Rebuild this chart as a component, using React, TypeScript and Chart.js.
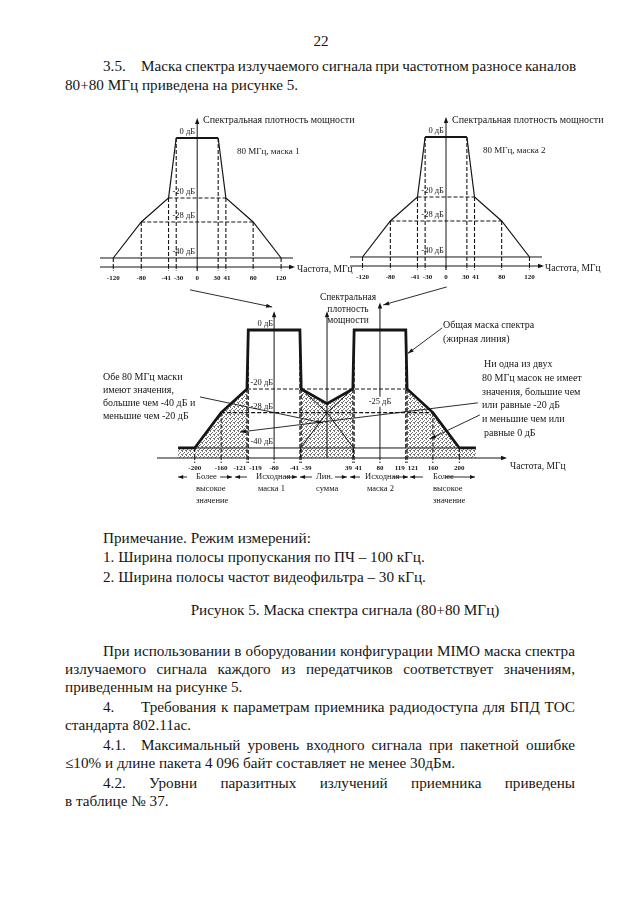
import React, { useEffect, useRef } from "react";
import { Chart, registerables } from "chart.js";

Chart.register(...registerables);

const INK = "#151515";
const SERIF = '"Liberation Serif", "Times New Roman", Times, serif';
const BODY = 15.2;

// ---------------- data ----------------
// single 80 MHz mask (mask 1 and mask 2 have the same shape): offset in MHz, level in dB
const singleMaskFreqs = [-120, -80, -41, -30, 30, 41, 80, 120];
const singleMaskLevels = [-40, -28, -20, 0, 0, -20, -28, -40];
const singleTicks = [-120, -80, -41, -30, 0, 30, 41, 80, 120];
const singleLevelMarks = [0, -20, -28, -40];

// 80+80 MHz
const mask1Freqs = [-200, -160, -121, -119, -41, -39, 0, 40];
const mask1Levels = [-40, -28, -20, 0, 0, -20, -28, -40];
const mask2Freqs = [-40, 0, 39, 41, 119, 121, 160, 200];
const mask2Levels = [-40, -28, -20, 0, 0, -20, -28, -40];
const overallFreqs = [-225, -200, -160, -121, -119, -41, -39, 0, 39, 41, 119, 121, 160, 200, 225];
const overallLevels = [-40, -40, -28, -20, 0, 0, -20, -25, -20, 0, 0, -20, -28, -40, -40];
const comboTicks = [-200, -160, -121, -119, -80, -41, -39, 39, 41, 80, 119, 121, 160, 200];
const comboLevelMarks = [0, -20, -28, -40];
const sumLevel = -25;
const maskCentres = [-80, 80];
const axisPositions = [-80, 0, 80];
const axisTipLevels = [6, 6, 9];

// ---------------- layout ----------------
const SINGLE_Y = { min: -43, max: 6.33 };
const COMBO_X = { min: -257, max: 269 };
const COMBO_Y = { min: -43.4, max: 9.15 };

// annotation leaders (data coords) [x1, y1, x2, y2]
const comboLeaders = [
  [-207, 13.6, -83, 7.8],
  [181, 14.6, 85, 8.5],
  [174, 0.7, 122, -8],
  [-192, -22.7, -6, -31.5],
  [228, -24.7, -131.5, -34.6],
  [231, -28.8, 155.7, -36.9],
];
// arrows under the axis [from, to] (x in MHz)
const regionArrows = [
  [-211.6, -225], [-161.7, -143.6], [-121, -139], [-63.5, -45.3], [-22.7, -40.8],
  [12, 30], [49.9, 34.8], [99.8, 122.4], [145, 125.5], [178, 223.7],
];

type P = { x: number; y: number | null };

function polyline(fs: number[], ls: number[]): P[] {
  return fs.map((f, i) => ({ x: f, y: ls[i] }));
}

function guides(fsList: number[][], lsList: number[][], yBottom: number, skip: number[]) {
  const all = lsList.flat();
  const floor = Math.min(...all);
  const levels: number[] = [];
  all.forEach((l) => { if (l > floor && l < 0 && !levels.includes(l)) levels.push(l); });
  const h: P[] = [];
  levels.forEach((L) => {
    const fs: number[] = [];
    fsList.forEach((arr, k) => arr.forEach((f, i) => { if (lsList[k][i] === L) fs.push(f); }));
    const a = Math.min(...fs), b = Math.max(...fs);
    h.push({ x: a, y: L }, { x: b, y: L }, { x: b, y: null });
  });
  const top = new Map<number, number>();
  fsList.forEach((arr, k) => arr.forEach((f, i) => {
    if (skip.includes(f)) return;
    const L = lsList[k][i];
    if (!top.has(f) || (top.get(f) as number) < L) top.set(f, L);
  }));
  const v: P[] = [];
  [...top.keys()].sort((a, b) => a - b).forEach((f) => {
    v.push({ x: f, y: top.get(f) as number }, { x: f, y: yBottom }, { x: f, y: null });
  });
  return { h, v, floor };
}

function lowSegments(fs: number[], ls: number[]): P[][] {
  const out: P[][] = [];
  let cur: P[] = [];
  fs.forEach((f, i) => {
    if (ls[i] < 0) cur.push({ x: f, y: ls[i] });
    else { if (cur.length > 1) out.push(cur); cur = []; }
  });
  if (cur.length > 1) out.push(cur);
  return out;
}

function seg(ctx: CanvasRenderingContext2D, x1: number, y1: number, x2: number, y2: number) {
  ctx.beginPath(); ctx.moveTo(x1, y1); ctx.lineTo(x2, y2); ctx.stroke();
}
function head(ctx: CanvasRenderingContext2D, x1: number, y1: number, x2: number, y2: number, len = 6, half = 2.2) {
  const a = Math.atan2(y2 - y1, x2 - x1);
  ctx.beginPath();
  ctx.moveTo(x2, y2);
  ctx.lineTo(x2 - len * Math.cos(a) + half * Math.sin(a), y2 - len * Math.sin(a) - half * Math.cos(a));
  ctx.lineTo(x2 - len * Math.cos(a) - half * Math.sin(a), y2 - len * Math.sin(a) + half * Math.cos(a));
  ctx.closePath(); ctx.fill();
}
function tickLabels(ctx: CanvasRenderingContext2D, ticks: number[], X: (v: number) => number, y: number, font: string) {
  ctx.font = font; ctx.textAlign = "center"; ctx.textBaseline = "middle";
  const items = ticks.map((t) => ({ t, p: X(t), w: ctx.measureText(String(t)).width }));
  items.sort((a, b) => a.p - b.p);
  for (let it = 0; it < 80; it++) {
    for (let i = 0; i < items.length - 1; i++) {
      const A = items[i], B = items[i + 1];
      const need = (A.w + B.w) / 2 + 3, d = B.p - A.p;
      if (d < need) { const s = (need - d) / 2; A.p -= s; B.p += s; }
    }
  }
  items.forEach((i) => ctx.fillText(String(i.t), i.p, y));
}

function baseDataset(d: any) {
  return { borderColor: INK, backgroundColor: INK, pointRadius: 0, pointHoverRadius: 0, fill: false, tension: 0, clip: false, spanGaps: false, ...d };
}

function baseOptions(pad: any, xr: any, yr: any) {
  return {
    responsive: false,
    animation: false,
    devicePixelRatio: 1,
    events: [],
    layout: { padding: pad },
    plugins: { legend: { display: false }, tooltip: { enabled: false }, title: { display: false } },
    scales: {
      x: { type: "linear", min: xr.min, max: xr.max, display: false },
      y: { type: "linear", min: yr.min, max: yr.max, display: false },
    },
  };
}

function singleConfig(pad: any, xr: any) {
  const g = guides([singleMaskFreqs], [singleMaskLevels], SINGLE_Y.min, []);
  const plugin = {
    id: "singleDecor",
    afterDraw(chart: any) {
      const { ctx, chartArea: a } = chart;
      const xs = chart.scales.x, ys = chart.scales.y;
      const X = (v: number) => xs.getPixelForValue(v), Y = (v: number) => ys.getPixelForValue(v);
      ctx.save();
      ctx.strokeStyle = INK; ctx.fillStyle = INK; ctx.lineWidth = 1;
      const base = Y(SINGLE_Y.min);
      seg(ctx, a.left, base, a.right, base);
      head(ctx, a.left, base, a.right + 2, base);
      const x0 = X(0);
      seg(ctx, x0, base + 4, x0, a.top + 2);
      head(ctx, x0, base, x0, a.top - 1);
      ctx.setLineDash([2, 1.5]);
      singleTicks.forEach((t) => seg(ctx, X(t), base, X(t), base + 4));
      ctx.setLineDash([]);
      tickLabels(ctx, singleTicks, X, base + 11, "bold 7px " + SERIF);
      ctx.font = "8.5px " + SERIF; ctx.textAlign = "right"; ctx.textBaseline = "middle";
      singleLevelMarks.forEach((L) => ctx.fillText(`${L} дБ`, x0 - 2, Y(L) - 6));
      ctx.restore();
    },
  };
  return {
    type: "line",
    data: {
      datasets: [
        baseDataset({
          data: polyline(singleMaskFreqs, singleMaskLevels), borderWidth: 1.2, order: 1,
          segment: { borderWidth: (c: any) => (c.p0.parsed.y === 0 && c.p1.parsed.y === 0 ? 2 : undefined) },
        }),
        baseDataset({ data: [{ x: xr.min, y: g.floor }, { x: xr.max, y: g.floor }], borderWidth: 1, order: 3 }),
        baseDataset({ data: g.h, borderWidth: 1.1, borderDash: [4, 2], order: 4 }),
        baseDataset({ data: g.v, borderWidth: 1.1, borderDash: [4, 2], order: 4 }),
      ],
    },
    options: baseOptions(pad, xr, SINGLE_Y),
    plugins: [plugin],
  };
}

function makeStipple(): any {
  const c = document.createElement("canvas");
  c.width = 4; c.height = 4;
  const g = c.getContext("2d");
  if (!g) return "rgba(0,0,0,0.15)";
  g.fillStyle = "rgba(0,0,0,0.55)";
  [[0, 0], [2, 1], [1, 2], [3, 3], [0, 3]].forEach(([a, b]) => g.fillRect(a, b, 1, 1));
  return g.createPattern(c, "repeat") || "rgba(0,0,0,0.15)";
}

function comboConfig(pad: any) {
  const g = guides([mask1Freqs, mask2Freqs], [mask1Levels, mask2Levels], COMBO_Y.min, axisPositions);
  const pattern = makeStipple();
  const fills = lowSegments(overallFreqs, overallLevels).map((s) =>
    baseDataset({ data: s, fill: "start", backgroundColor: pattern, borderWidth: 0, borderColor: "rgba(0,0,0,0)", order: 10 })
  );
  const fMin = Math.min(...overallFreqs), fMax = Math.max(...overallFreqs);
  const plugin = {
    id: "comboDecor",
    afterDraw(chart: any) {
      const { ctx, chartArea: a } = chart;
      const xs = chart.scales.x, ys = chart.scales.y;
      const X = (v: number) => xs.getPixelForValue(v), Y = (v: number) => ys.getPixelForValue(v);
      ctx.save();
      ctx.strokeStyle = INK; ctx.fillStyle = INK; ctx.lineWidth = 1;
      const base = Y(COMBO_Y.min);
      seg(ctx, a.left, base, a.right, base);
      head(ctx, a.left, base, a.right + 2, base);
      axisPositions.forEach((p, i) => {
        seg(ctx, X(p), base, X(p), Y(axisTipLevels[i]) + 2);
        head(ctx, X(p), base, X(p), Y(axisTipLevels[i]) - 1);
      });
      ctx.setLineDash([2, 1.5]);
      comboTicks.forEach((t) => seg(ctx, X(t), base, X(t), base + 5));
      ctx.setLineDash([]);
      tickLabels(ctx, comboTicks, X, base + 10, "bold 7px " + SERIF);
      // level marks
      ctx.font = "8.5px " + SERIF; ctx.textAlign = "right"; ctx.textBaseline = "middle";
      comboLevelMarks.forEach((L) => ctx.fillText(`${L} дБ`, X(maskCentres[0]) - 1, Y(L) - 6));
      const t = `${sumLevel} дБ`;
      ctx.textAlign = "center";
      const w = ctx.measureText(t).width;
      ctx.fillStyle = "#fff";
      ctx.fillRect(X(maskCentres[1]) - w / 2 - 1, Y(sumLevel) - 7, w + 2, 10);
      ctx.fillStyle = INK;
      ctx.fillText(t, X(maskCentres[1]), Y(sumLevel) - 2);
      // leaders
      ctx.lineWidth = 0.9;
      comboLeaders.forEach(([x1, y1, x2, y2]) => {
        seg(ctx, X(x1), Y(y1), X(x2), Y(y2));
        head(ctx, X(x1), Y(y1), X(x2), Y(y2), 6, 2);
      });
      // region arrows
      const ay = base + 19;
      regionArrows.forEach(([f1, f2]) => {
        seg(ctx, X(f1), ay, X(f2), ay);
        head(ctx, X(f1), ay, X(f2), ay, 5, 2);
      });
      ctx.restore();
    },
  };
  return {
    type: "line",
    data: {
      datasets: [
        baseDataset({ data: polyline(overallFreqs, overallLevels), borderWidth: 2.8, order: 1 }),
        baseDataset({ data: polyline(mask1Freqs, mask1Levels), borderWidth: 1, order: 5 }),
        baseDataset({ data: polyline(mask2Freqs, mask2Levels), borderWidth: 1, order: 5 }),
        baseDataset({ data: [{ x: fMin, y: g.floor }, { x: fMax, y: g.floor }], borderWidth: 1, order: 6 }),
        baseDataset({ data: g.h, borderWidth: 1.1, borderDash: [4, 2], order: 7 }),
        baseDataset({ data: g.v, borderWidth: 1.1, borderDash: [4, 2], order: 7 }),
        ...fills,
      ],
    },
    options: baseOptions(pad, COMBO_X, COMBO_Y),
    plugins: [plugin],
  };
}

function ChartCanvas({ left, top, width, height, build }: any) {
  const ref = useRef<HTMLCanvasElement | null>(null);
  useEffect(() => {
    if (!ref.current) return;
    const chart = new Chart(ref.current, build());
    return () => chart.destroy();
  }, []);
  return (
    <div style={{ position: "absolute", left, top, width, height }}>
      <canvas ref={ref} width={width} height={height} style={{ display: "block", width, height }} />
    </div>
  );
}

function Txt({ x, y, size = BODY, align = "left", w, children }: any) {
  const lh = Math.round(size * 1.2);
  const style: any = {
    position: "absolute", top: y - lh / 2, fontSize: size, lineHeight: `${lh}px`,
    whiteSpace: "nowrap", color: INK, fontFamily: SERIF,
  };
  if (align === "center") { style.left = x - 300; style.width = 600; style.textAlign = "center"; }
  else style.left = x;
  if (align === "justify") {
    const words = String(children).split(" ");
    style.width = w; style.display = "flex"; style.justifyContent = "space-between"; style.columnGap = 3;
    return <div style={style}>{words.map((wd, i) => <span key={i}>{wd}</span>)}</div>;
  }
  return <div style={style}>{children}</div>;
}

const R = 575;

export default function App() {
  return (
    <div style={{ position: "absolute", left: 0, top: 0, width: 640, height: 905, background: "#fff", overflow: "hidden", fontFamily: SERIF, color: INK }}>
      <Txt x={321} y={41} align="center">22</Txt>
      <Txt x={103} y={66}>3.5.</Txt>
      <Txt x={141} y={66} align="justify" w={R - 141}>Маска спектра излучаемого сигнала при частотном разносе каналов</Txt>
      <Txt x={65} y={85}>80+80 МГц приведена на рисунке 5.</Txt>

      <ChartCanvas left={60} top={100} width={300} height={195}
        build={() => singleConfig({ left: 40, right: 67, top: 19, bottom: 28 }, { min: -139, max: 137 })} />
      <ChartCanvas left={340} top={99} width={280} height={195}
        build={() => singleConfig({ left: 10, right: 78, top: 19, bottom: 28 }, { min: -138, max: 138 })} />
      <ChartCanvas left={90} top={283} width={520} height={235}
        build={() => comboConfig({ left: 67, right: 105, top: 20, bottom: 60 })} />

      <Txt x={203} y={120} size={10}>Спектральная плотность мощности</Txt>
      <Txt x={237} y={151} size={9}>80 МГц, маска 1</Txt>
      <Txt x={297} y={269} size={9.5}>Частота, МГц</Txt>
      <Txt x={452} y={120} size={10}>Спектральная плотность мощности</Txt>
      <Txt x={483} y={150} size={9}>80 МГц, маска 2</Txt>
      <Txt x={545} y={268} size={9.5}>Частота, МГц</Txt>

      <Txt x={348} y={297} size={9.5} align="center">Спектральная</Txt>
      <Txt x={348} y={309} size={9.5} align="center">плотность</Txt>
      <Txt x={348} y={320} size={9.5} align="center">мощности</Txt>
      <Txt x={443} y={325} size={10}>Общая маска спектра</Txt>
      <Txt x={443} y={339} size={10}>(жирная линия)</Txt>
      <Txt x={103} y={377} size={10}>Обе 80 МГц маски</Txt>
      <Txt x={103} y={390} size={10}>имеют значения,</Txt>
      <Txt x={103} y={403} size={10}>большие чем -40 дБ и</Txt>
      <Txt x={103} y={416} size={10}>меньшие чем -20 дБ</Txt>
      <Txt x={484} y={364} size={10}>Ни одна из двух</Txt>
      <Txt x={482} y={378} size={10}>80 МГц масок не имеет</Txt>
      <Txt x={482} y={392} size={10}>значения, большие чем</Txt>
      <Txt x={482} y={405} size={10}>или равные -20 дБ</Txt>
      <Txt x={482} y={419} size={10}>и меньшие чем или</Txt>
      <Txt x={484} y={433} size={10}>равные 0 дБ</Txt>
      <Txt x={510} y={466} size={9.5}>Частота, МГц</Txt>

      <Txt x={196} y={476} size={8.5}>Более</Txt>
      <Txt x={196} y={488} size={8.5}>высокое</Txt>
      <Txt x={196} y={500} size={8.5}>значение</Txt>
      <Txt x={256} y={476} size={8.5}>Исходная</Txt>
      <Txt x={258} y={488} size={8.5}>маска 1</Txt>
      <Txt x={316} y={476} size={8.5}>Лин.</Txt>
      <Txt x={316} y={488} size={8.5}>сумма</Txt>
      <Txt x={365} y={476} size={8.5}>Исходная</Txt>
      <Txt x={367} y={488} size={8.5}>маска 2</Txt>
      <Txt x={433} y={476} size={8.5}>Более</Txt>
      <Txt x={433} y={488} size={8.5}>высокое</Txt>
      <Txt x={433} y={500} size={8.5}>значение</Txt>

      <Txt x={103} y={538}>Примечание. Режим измерений:</Txt>
      <Txt x={103} y={557}>1. Ширина полосы пропускания по ПЧ – 100 кГц.</Txt>
      <Txt x={103} y={577}>2. Ширина полосы частот видеофильтра – 30 кГц.</Txt>
      <Txt x={345} y={610} align="center">Рисунок 5. Маска спектра сигнала (80+80 МГц)</Txt>

      <Txt x={103} y={651} align="justify" w={R - 103}>При использовании в оборудовании конфигурации MIMO маска спектра</Txt>
      <Txt x={65} y={669} align="justify" w={R - 65}>излучаемого сигнала каждого из передатчиков соответствует значениям,</Txt>
      <Txt x={65} y={687}>приведенным на рисунке 5.</Txt>
      <Txt x={103} y={707}>4.</Txt>
      <Txt x={141} y={707} align="justify" w={R - 141}>Требования к параметрам приемника радиодоступа для БПД ТОС</Txt>
      <Txt x={65} y={725}>стандарта 802.11ac.</Txt>
      <Txt x={103} y={745}>4.1.</Txt>
      <Txt x={141} y={745} align="justify" w={R - 141}>Максимальный уровень входного сигнала при пакетной ошибке</Txt>
      <Txt x={65} y={763}>≤10% и длине пакета 4 096 байт составляет не менее 30дБм.</Txt>
      <Txt x={103} y={783} align="justify" w={R - 103}>4.2. Уровни паразитных излучений приемника приведены</Txt>
      <Txt x={65} y={801}>в таблице № 37.</Txt>
    </div>
  );
}
